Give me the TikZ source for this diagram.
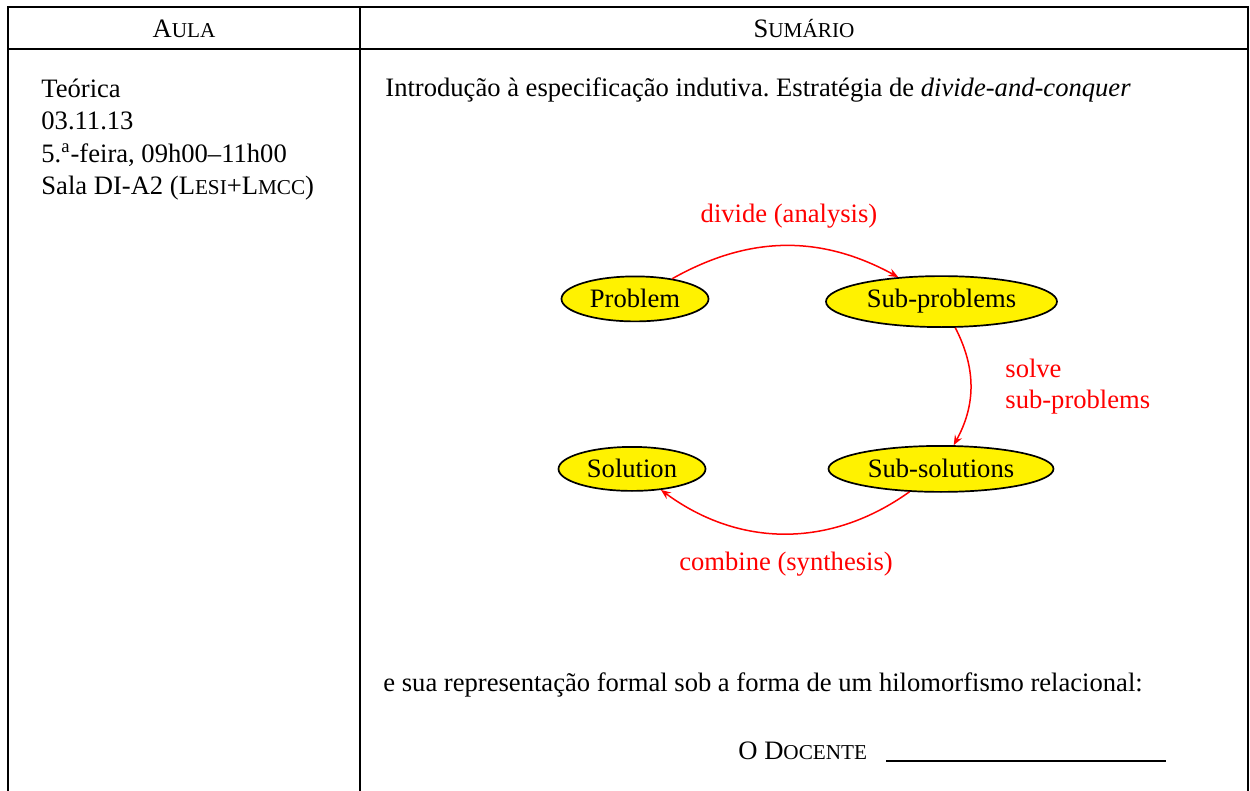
\documentclass[tikz,border=0pt]{standalone}
\usepackage{fontspec}
\setmainfont{Liberation Serif}
\usetikzlibrary{shapes.geometric,arrows.meta}
\newcommand\fakesc[1]{{\fontsize{10.6}{12}\selectfont #1}}
\begin{document}
\begin{tikzpicture}[x=0.5pt,y=-0.5pt,
  every node/.style={font=\fontsize{13.3}{16}\selectfont, inner sep=0pt},
  txt/.style={anchor=base west},
  hdr/.style={anchor=base},
  tabline/.style={line width=1.2pt, line join=miter},
  blob/.style={ellipse, draw=black, fill=yellow, line width=0.85pt, anchor=base},
  lbl/.style={text=red},
  arr/.style={draw=red, line width=0.75pt, -{Stealth[length=5pt,width=4pt,inset=1.8pt]}}
]
\fill[white] (0,0) rectangle (1250,791);
\useasboundingbox (0,0) rectangle (1250,791);

% table
\draw[tabline] (8,791) -- (8,7) -- (1248,7) -- (1248,791);
\draw[tabline] (8,49) -- (1248,49);
\draw[tabline] (360,7) -- (360,791);

% header
\node[hdr] (haula) at (184,38) {A\fakesc{ULA}};
\node[hdr] (hsum) at (804,38) {S\fakesc{UMÁRIO}};

% left column
\node[txt] (l1) at (41,98) {Teórica};
\node[txt] (l2) at (41,130) {03.11.13};
\node[txt] (l3) at (41,162.5) {5.\textsuperscript{a}-feira, 09h00–11h00};
\node[txt] (l4) at (41,194.5) {Sala DI-A2 (L\fakesc{ESI}+L\fakesc{MCC})};

% right column text
\node[txt] (intro) at (385,97) {Introdução à especificação indutiva.\ Estratégia de \textit{divide-and-conquer}};
\node[txt] (rep) at (383,692) {e sua representação formal sob a forma de um hilomorfismo relacional:};
\node[txt] (doc) at (738,760) {O D\fakesc{OCENTE}};
\coordinate (sigA) at (886,761);
\coordinate (sigB) at (1166,761);
\draw[line width=1pt] (sigA) -- (sigB);

% diagram
\node[blob, minimum width=73.5pt, minimum height=22.5pt] (prob) at (635,308) {Problem};
\node[blob, minimum width=115.5pt, minimum height=25.5pt] (sprob) at (941.5,308) {Sub-problems};
\node[blob, minimum width=73.5pt, minimum height=22pt] (sol) at (632,478) {Solution};
\node[blob, minimum width=112.5pt, minimum height=23pt] (ssol) at (941,478) {Sub-solutions};

\draw[arr] (prob) to[bend left=29] (sprob);
\draw[arr] (sprob) to[bend left=28] (ssol);
\draw[arr] (ssol) to[bend left=36] (sol);

\node[lbl, anchor=base] (ldiv) at (789,223) {divide (analysis)};
\node[lbl, anchor=base west] (lsolve1) at (1005,378) {solve};
\node[lbl, anchor=base west] (lsolve2) at (1005,409) {sub-problems};
\node[lbl, anchor=base] (lcomb) at (786,571) {combine (synthesis)};
\end{tikzpicture}
\end{document}
